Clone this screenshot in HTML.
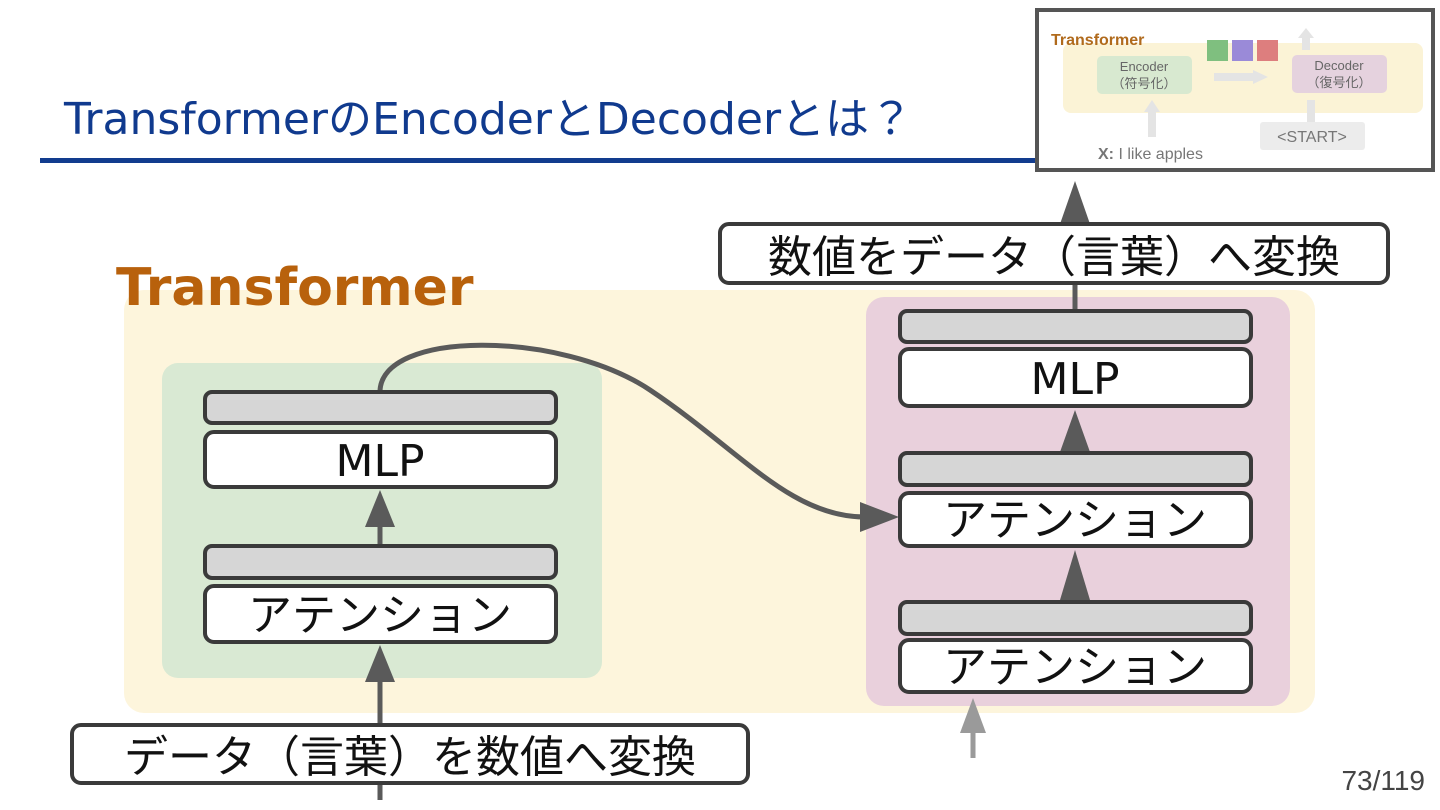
<!DOCTYPE html>
<html><head><meta charset="utf-8"><style>
body{margin:0;background:#fff;}
svg{display:block;font-family:"Liberation Sans","Noto Sans CJK JP",sans-serif;}
</style></head><body>
<svg width="1440" height="810" viewBox="0 0 1440 810" xmlns="http://www.w3.org/2000/svg">
<defs>
<marker id="ah" markerWidth="10" markerHeight="10" refX="5" refY="5" orient="auto" markerUnits="userSpaceOnUse"></marker>
</defs>
<text x="64" y="134" font-size="44" fill="#103a8e" font-family="'DejaVu Sans','Noto Sans CJK JP',sans-serif">TransformerのEncoderとDecoderとは？</text>
<rect x="40" y="158" width="996" height="5" fill="#123c8e"/>

<!-- thumbnail -->
<rect x="1037" y="10" width="396" height="160" fill="#fff" stroke="#555" stroke-width="4"/>
<rect x="1063" y="43" width="360" height="70" rx="8" fill="#fbf3d6"/>
<text x="1051" y="45" font-size="16" font-weight="bold" fill="#b06a1c">Transformer</text>
<rect x="1097" y="56" width="95" height="38" rx="5" fill="#d8e9d0"/>
<text x="1144" y="71" font-size="13" fill="#666" text-anchor="middle">Encoder</text>
<text x="1144" y="88" font-size="13" fill="#666" text-anchor="middle">（符号化）</text>
<rect x="1292" y="55" width="95" height="38" rx="5" fill="#e5d2de"/>
<text x="1339" y="70" font-size="13" fill="#666" text-anchor="middle">Decoder</text>
<text x="1339" y="87" font-size="13" fill="#666" text-anchor="middle">（復号化）</text>
<rect x="1207" y="40" width="21" height="21" fill="#7fbf7f"/>
<rect x="1232" y="40" width="21" height="21" fill="#9a8ad8"/>
<rect x="1257" y="40" width="21" height="21" fill="#dd7e7e"/>
<path d="M1214 77 H1255" stroke="#e4e4e4" stroke-width="8"/><path d="M1253 70 L1268 77 L1253 84Z" fill="#e4e4e4"/>
<path d="M1152 137 V110" stroke="#e4e4e4" stroke-width="8"/><path d="M1144 112 L1152 100 L1160 112Z" fill="#e4e4e4"/>
<path d="M1311 122 V100" stroke="#e4e4e4" stroke-width="8"/>
<path d="M1306 50 V36" stroke="#e4e4e4" stroke-width="8"/><path d="M1298 38 L1306 28 L1314 38Z" fill="#e4e4e4"/>
<rect x="1260" y="122" width="105" height="28" rx="3" fill="#ececec"/>
<text x="1312" y="142" font-size="16" fill="#777" text-anchor="middle">&lt;START&gt;</text>
<text x="1098" y="159" font-size="16" fill="#777"><tspan font-weight="bold">X:</tspan> I like apples</text>

<!-- Transformer bg -->
<rect x="124" y="290" width="1191" height="423" rx="20" fill="#fdf5dc"/>
<text x="116" y="305" font-size="52" font-weight="bold" fill="#b8610c" font-family="'DejaVu Sans',sans-serif">Transformer</text>
<rect x="162" y="363" width="440" height="315" rx="16" fill="#d9e9d3"/>
<rect x="866" y="297" width="424" height="409" rx="18" fill="#e9d0dc"/>

<g stroke="#5a5a5a" stroke-width="5" fill="none">
<path d="M380 800 V680"/>
<path d="M380 546 V522"/>
<path d="M1075 311 V220"/>
<path d="M1075 453 V440"/>
<path d="M1075 602 V585"/>
<path d="M380 392 C380 330 560 330 650 390 C740 450 790 517 865 517"/>
</g>
<path d="M973 758 V725" stroke="#9a9a9a" stroke-width="5"/>
<path d="M960 733 L973 698 L986 733Z" fill="#9a9a9a"/>
<g fill="#5a5a5a">
<path d="M365 682 L380 645 L395 682Z"/>
<path d="M365 527 L380 490 L395 527Z"/>
<path d="M1060 224 L1075 181 L1090 224Z"/>
<path d="M1060 452 L1075 410 L1090 452Z"/>
<path d="M1060 600 L1075 550 L1090 600Z"/>
<path d="M860 502 L899 517 L860 532Z"/>
</g>

<g stroke="#3a3a3a" stroke-width="4">
<rect x="205" y="392" width="351" height="31" rx="7" fill="#d6d6d6"/>
<rect x="205" y="432" width="351" height="55" rx="9" fill="#fff"/>
<rect x="205" y="546" width="351" height="32" rx="7" fill="#d6d6d6"/>
<rect x="205" y="586" width="351" height="56" rx="9" fill="#fff"/>
<rect x="900" y="311" width="351" height="31" rx="7" fill="#d6d6d6"/>
<rect x="900" y="349" width="351" height="57" rx="9" fill="#fff"/>
<rect x="900" y="453" width="351" height="32" rx="7" fill="#d6d6d6"/>
<rect x="900" y="493" width="351" height="53" rx="9" fill="#fff"/>
<rect x="900" y="602" width="351" height="32" rx="7" fill="#d6d6d6"/>
<rect x="900" y="640" width="351" height="52" rx="9" fill="#fff"/>
<rect x="720" y="224" width="668" height="59" rx="9" fill="#fff"/>
<rect x="72" y="725" width="676" height="58" rx="9" fill="#fff"/>
</g>
<g font-size="44" fill="#111" text-anchor="middle" font-family="'DejaVu Sans','Noto Sans CJK JP',sans-serif">
<text x="380" y="476">MLP</text>
<text x="380" y="630">アテンション</text>
<text x="1075" y="394">MLP</text>
<text x="1075" y="535">アテンション</text>
<text x="1075" y="682">アテンション</text>
<text x="1054" y="272">数値をデータ（言葉）へ変換</text>
<text x="410" y="772">データ（言葉）を数値へ変換</text>
</g>
<text x="1425" y="790" font-size="28" fill="#444" text-anchor="end">73/119</text>
</svg>
</body></html>
